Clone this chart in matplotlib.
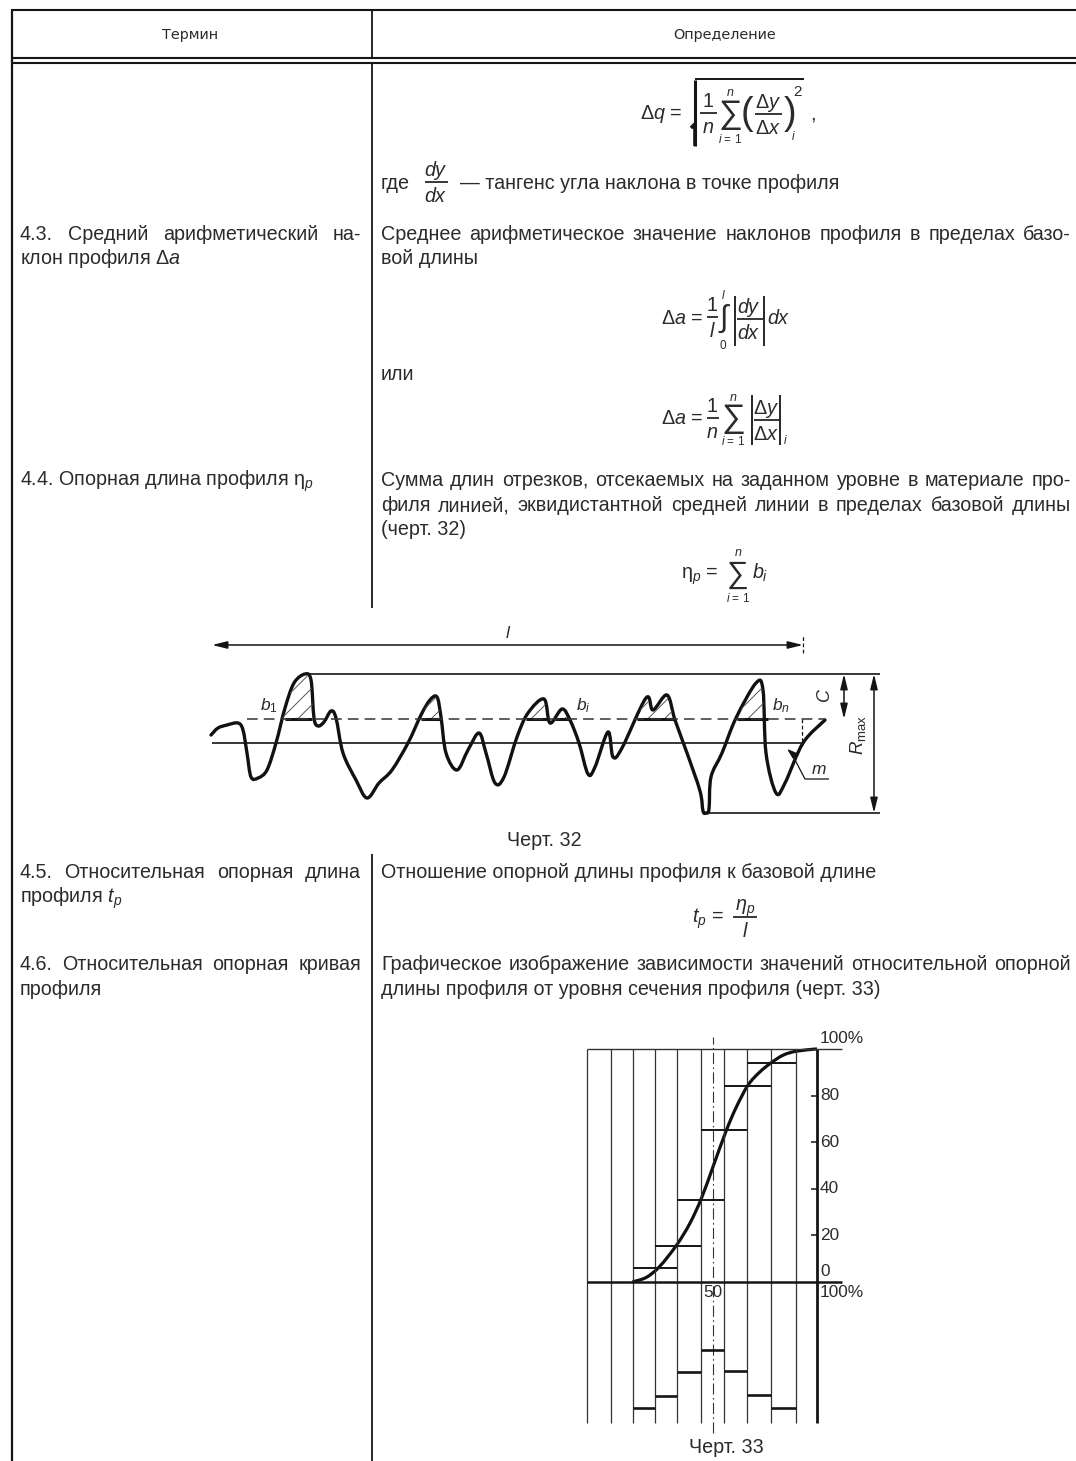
import numpy as np
import matplotlib
matplotlib.use('Agg')
import matplotlib.pyplot as plt
from matplotlib.path import Path
from matplotlib.patches import PathPatch

plt.rcParams['font.family'] = ['Liberation Sans', 'DejaVu Sans']
plt.rcParams['mathtext.fontset'] = 'custom'
plt.rcParams['mathtext.rm'] = 'Liberation Sans'
plt.rcParams['mathtext.it'] = 'Liberation Sans:italic'
plt.rcParams['hatch.linewidth'] = 0.7

INK = '#2b2b2b'
BODY = 14.2

# -- figure 32: profile, position along l vs height above the mean line -- #
profile_x = [211,218,227,238,243,247,251,258,267,276,285,294,305,311,314,318,324,331,336,343,
             356,367,379,392,408,421,430,437,441,446,457,468,479,486,495,504,517,528,544,550,
             562,570,579,588,595,608,613,622,646,653,667,675,687,700,703,706,709,711,722,736,756,763,
             766,776,785,803,825]
profile_h = [8,15,18,20,13,-10,-34,-35,-27,0,35,60,69,63,25,17,21,32,25,-10,
             -37,-55,-40,-27,0,28,43,46,26,-10,-27,-7,10,-10,-40,-34,6,30,44,20,
             34,23,0,-31,-24,11,-14,-5,45,33,48,23,-10,-48,-68,-70,-66,-34,-10,25,60,53,
             -10,-50,-40,0,23]
level_h = 24
hatch_spans = [(285,312),(421,441),(526,548),(555,570),(637,675),(737,768)]
peak_h = 69
valley_h = -70

# -- figure 33: bearing curve, percent on both axes -- #
curve_x = [11.2,18,24.4,32.4,38.8,44.4,50,56.4,61.2,66.8,72.4,77.9,83.7,90,100]
curve_y = [0,2,6.7,15.7,25,35.8,49.4,65,75,84.4,90,94,97.3,99,100]
grid_x = [-10.6,1,11.5,22,32.7,44.2,55.3,66.3,77.9,89.9,100]
stair_levels = [6,15.5,35,65,84,94]
hist_heights = [6.6,11.7,22,31.5,22.3,12,6.4]
y_ticks = [20,40,60,80]
hist_base = -60.5

# -- table text -- #
left_just = [(240,'4.3. Средний арифметический на-'),
             (878,'4.5. Относительная опорная длина'),
             (970,'4.6. Относительная опорная кривая')]
right_just = [(240,'Среднее арифметическое значение наклонов профиля в пределах базо-'),
              (486,'Сумма длин отрезков, отсекаемых на заданном уровне в материале про-'),
              (511,'филя линией, эквидистантной средней линии в пределах базовой длины'),
              (970,'Графическое изображение зависимости значений относительной опорной')]
plain = [(20,264,'клон профиля $\\Delta a$'),
         (20,486,'4.4. Опорная длина профиля η$_p$'),
         (20,903,'профиля $t_p$'),
         (20,995,'профиля'),
         (381,264,'вой длины'),
         (381,380,'или'),
         (381,535,'(черт. 32)'),
         (381,878,'Отношение опорной длины профиля к базовой длине'),
         (381,995,'длины профиля от уровня сечения профиля (черт. 33)'),
         (381,189,'где'),
         (460,189,'— тангенс угла наклона в точке профиля')]

fig = plt.figure(figsize=(10.76,14.61),dpi=100)
ax = fig.add_axes([0,0,1,1])
ax.set_xlim(0,1076)
ax.set_ylim(1461,0)
ax.axis('off')
renderer = fig.canvas.get_renderer()


def txt(x,y,s,size=BODY,ha='left',style='normal',**kw):
    return ax.text(x,y,s,fontsize=size,ha=ha,va='baseline',style=style,color=INK,**kw)


def line(xs,ys,lw=1.3,axis=None,**kw):
    (axis or ax).plot(xs,ys,color=kw.pop('color','#151515'),lw=lw,solid_capstyle='butt',**kw)


def justify(y,s,x0,x1,size=BODY):
    # word by word, so both ends of the line hit the column edges
    words = s.split(' ')
    items = [txt(0,y,w,size=size) for w in words]
    widths = [i.get_window_extent(renderer).width for i in items]
    gap = (x1-x0-sum(widths))/(len(words)-1)
    x = x0
    for item,w in zip(items,widths):
        item.set_x(x)
        x += w+gap


def frac(xc,y,top,bottom,x0,x1,size=BODY,top_style='italic'):
    line([x0,x1],[y,y],lw=1.2)
    txt(xc,y-6,top,size=size,ha='center',style=top_style)
    txt(xc,y+20,bottom,size=size,ha='center',style='italic')


def smooth(xs,ys):
    # curve through all the read points
    pts = np.column_stack([xs,ys])
    n = len(pts)
    verts,codes = [pts[0]],[Path.MOVETO]
    for i in range(n-1):
        c1 = pts[i]+(pts[i+1]-pts[max(i-1,0)])/6
        c2 = pts[i+1]-(pts[min(i+2,n-1)]-pts[i])/6
        verts += [c1,c2,pts[i+1]]
        codes += [Path.CURVE4]*3
    return Path(verts,codes)


# table rules
line([11,1076],[10,10],lw=1.5)
line([11,1076],[58,58],lw=1.5)
line([11,1076],[63,63],lw=1.5)
line([11.5,11.5],[10,1461],lw=1.6)
line([371.5,371.5],[10,58],lw=1.3)
line([371.5,371.5],[63,608],lw=1.3)
line([371.5,371.5],[854,1461],lw=1.3)
txt(190,39,'Термин',size=10.4,ha='center',family='DejaVu Sans')
txt(725,39,'Определение',size=10.4,ha='center',family='DejaVu Sans')

for y,s in left_just:
    justify(y,s,20,361)
for y,s in right_just:
    justify(y,s,381,1071)
for x,y,s in plain:
    txt(x,y,s)

# dq formula
txt(640,119,'$\\Delta q$ =')
line([691,695,695],[128,124,146],lw=2.6)
line([695,695],[80,146],lw=2.2)
line([695,804],[79,79],lw=1.4)
frac(708,113,'1','$n$',700,717,top_style='normal')
txt(730,123,'∑',size=24,ha='center')
txt(730,96,'n',size=9,ha='center',style='italic')
txt(730,143,'$i$ = 1',size=8.5,ha='center')
txt(747,124,'(',size=27,ha='center',fontweight='ultralight')
txt(790,124,')',size=27,ha='center',fontweight='ultralight')
frac(768,114,'$\\Delta y$','$\\Delta x$',755,782)
txt(798,96,'2',size=11,ha='center')
txt(793,140,'i',size=8.5,ha='center',style='italic')
txt(810,120,',')
frac(436,182,'$dy$','$dx$',425,448)

# da integral formula
txt(661,324,'$\\Delta a$ =')
frac(712,317,'1','$l$',707,718,top_style='normal')
txt(724,327,'∫',size=22,ha='center')
txt(723,299,'l',size=8.5,ha='center',style='italic')
txt(723,349,'0',size=8.5,ha='center')
line([735,735],[296,346],lw=1.3)
line([764,764],[296,346],lw=1.3)
frac(749,319,'$dy$','$dx$',737,763)
txt(767,324,'$dx$')

# da sum formula
txt(661,424,'$\\Delta a$ =')
frac(712,418,'1','$n$',707,719,top_style='normal')
txt(733,427,'∑',size=24,ha='center')
txt(733,401,'n',size=9,ha='center',style='italic')
txt(733,445,'$i$ = 1',size=8.5,ha='center')
line([752,752],[395,445],lw=1.3)
line([780,780],[395,445],lw=1.3)
frac(766,420,'$\\Delta y$','$\\Delta x$',754,779)
txt(785,444,'i',size=8.5,ha='center',style='italic')

# eta formula
txt(681,579,'η$_p$ =')
txt(738,583,'∑',size=22,ha='center')
txt(738,556,'n',size=9,ha='center',style='italic')
txt(738,602,'$i$ = 1',size=8.5,ha='center')
txt(752,579,'$b_i$')

# tp formula
txt(692,923,'$t_p$ =')
frac(745,917,'η$_p$','$l$',733,757)

# ---- figure 32 ---- #
ax32 = fig.add_axes([200/1076,1-850/1461,700/1076,230/1461])
ax32.set_xlim(200,900)
ax32.set_ylim(743-850,743-620)
ax32.axis('off')
ax32.patch.set_alpha(0)

px = np.array(profile_x,dtype=float)
ph = np.array(profile_h,dtype=float)
ax32.add_patch(PathPatch(smooth(px,ph),fill=False,lw=2.4,ec='#111111',capstyle='round',joinstyle='round'))
for a,b in hatch_spans:
    ax32.fill_between(px,ph,level_h,where=(ph>=level_h)&(px>=a-10)&(px<=b+10),interpolate=True,
                      facecolor='none',edgecolor='#555555',hatch='//',lw=0)
    line([a,b],[level_h,level_h],lw=2.2,axis=ax32)
ax32.plot([247,825],[level_h,level_h],color='#333333',lw=1.1,ls=(0,(7,4)))
line([212,803],[0,0],lw=1.2,axis=ax32)
line([305,880],[peak_h,peak_h],lw=1.2,axis=ax32)
line([705,880],[valley_h,valley_h],lw=1.2,axis=ax32)
line([802,802],[level_h,-3],lw=0.9,axis=ax32,ls=(0,(3,2)))
line([803,803],[90,108],lw=0.9,axis=ax32,ls=(0,(3,2)))
arrow = dict(arrowstyle='<|-|>,head_width=0.22,head_length=0.9',color='#151515',lw=1.1,shrinkA=0,shrinkB=0)
ax32.annotate('',xy=(212,98),xytext=(803,98),arrowprops=arrow)
ax32.annotate('',xy=(844,peak_h),xytext=(844,level_h),arrowprops=arrow)
ax32.annotate('',xy=(874,peak_h),xytext=(874,valley_h),arrowprops=arrow)
line([829,805,794],[-36,-36,-15],lw=0.9,axis=ax32)
ax32.annotate('',xy=(785,-4),xytext=(794,-12),arrowprops=dict(arrowstyle='-|>,head_width=0.2,head_length=0.6',color='#151515',lw=1))
for x,y,s in [(260,37,'$b_1$'),(576,37,'$b_i$'),(772,37,'$b_n$'),(811,-26,'$m$'),(505,110,'$l$')]:
    ax32.text(x,y,s,fontsize=12.5,color=INK,va='center')
ax32.text(826,48,'$C$',fontsize=13,rotation=90,ha='center',va='center',color=INK)
ax32.text(858,8,'$R_{\\mathrm{max}}$',fontsize=13.5,rotation=90,ha='center',va='center',color=INK)
txt(544,846,'Черт. 32',ha='center')

# ---- figure 33 ---- #
ax33 = fig.add_axes([570/1076,1-1440/1461,310/1076,420/1461])
ax33.set_xlim(-18.75,130.3)
ax33.set_ylim(-67.8,112.4)
ax33.axis('off')
ax33.patch.set_alpha(0)

for v in grid_x[:-1]:
    line([v,v],[hist_base,100],lw=0.9,axis=ax33,color='#333333')
line([100,100],[hist_base,100],lw=2,axis=ax33)
line([grid_x[0],112],[100,100],lw=1,axis=ax33,color='#333333')
line([grid_x[0],112],[0,0],lw=1.8,axis=ax33)
ax33.plot([50,50],[-65,105],color='#333333',lw=0.8,ls=(0,(10,3,1.5,3)))
ax33.add_patch(PathPatch(smooth(curve_x,curve_y),fill=False,lw=2.3,ec='#111111'))
for i,v in enumerate(stair_levels):
    line([grid_x[i+2],grid_x[i+4]],[v,v],lw=1.4,axis=ax33)
for i,v in enumerate(hist_heights):
    line([grid_x[i+2],grid_x[i+3]],[hist_base+v,hist_base+v],lw=1.9,axis=ax33)
for v in y_ticks:
    line([97,100],[v,v],lw=1.1,axis=ax33)
    ax33.text(101.5,v,str(v),fontsize=12.4,va='center',color=INK)
ax33.text(101.5,104.5,'100%',fontsize=12.4,va='center',color=INK)
ax33.text(101.5,4.3,'0',fontsize=12.4,va='center',color=INK)
ax33.text(101.5,-4.7,'100%',fontsize=12.4,va='center',color=INK)
ax33.text(50,-4.7,'50',fontsize=12.4,va='center',ha='center',color=INK)
txt(726,1453,'Черт. 33',ha='center')

fig.savefig('out.png',dpi=100)
plt.close()
